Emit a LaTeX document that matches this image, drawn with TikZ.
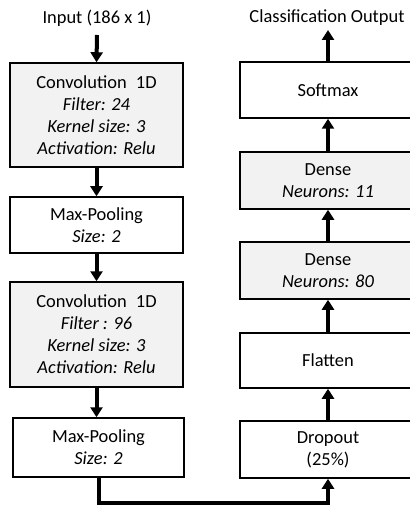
\documentclass[tikz,border=0pt]{standalone}
\usepackage{fontspec}
\setmainfont{Carlito}
\usetikzlibrary{arrows.meta,calc,positioning}
\tikzset{
  layer/.style     = {draw, line width=1.5bp, align=center, inner sep=0pt,
                      font=\fontsize{18.5}{22}\selectfont},
  convlayer/.style = {layer, fill=boxgray},
  flow/.style      = {-{Triangle[length=10bp,width=12bp]}, line width=4bp},
  caption/.style   = {font=\fontsize{18.5}{22}\selectfont},
}
\definecolor{boxgray}{HTML}{F2F2F2}

\begin{document}
\begin{tikzpicture}[x=1bp, y=-1bp, line join=miter]
  \useasboundingbox (0,0) rectangle (409,508);

  % ---- encoder side ------------------------------------------------------
  \node[caption] (input) at (97,18) {Input (186 x 1)};
  \node[convlayer, minimum width=173bp, minimum height=104bp] (conva) at (96.5,115)
    {Convolution\enspace 1D\\ \textit{Filter: 24}\\ \textit{Kernel size: 3}\\ \textit{Activation: Relu}};
  \node[layer, minimum width=173bp, minimum height=56bp] (poola) at (96.5,225)
    {Max-Pooling\\ \textit{Size: 2}};
  \node[convlayer, minimum width=173bp, minimum height=105bp] (convb) at (96.5,334.5)
    {Convolution\enspace 1D\\ \textit{Filter : 96}\\ \textit{Kernel size: 3}\\ \textit{Activation: Relu}};
  \node[layer, minimum width=171bp, minimum height=59bp] (poolb) at (98.5,447.5)
    {Max-Pooling\\ \textit{Size: 2}};

  % ---- classifier side ---------------------------------------------------
  \node[caption] (output) at (327,18) {Classification Output};
  \node[layer, minimum width=176bp, minimum height=56bp] (softmax) at (328,90) {Softmax};
  \node[convlayer, minimum width=176bp, minimum height=57bp] (densea) at (328,180.5)
    {Dense\\ \textit{Neurons: 11}};
  \node[convlayer, minimum width=176bp, minimum height=57bp] (denseb) at (328,270.5)
    {Dense\\ \textit{Neurons: 80}};
  \node[layer, minimum width=176bp, minimum height=55bp] (flatten) at (328,360.5) {Flatten};
  \node[layer, minimum width=176bp, minimum height=57bp] (dropout) at (328,449.5)
    {Dropout\\ (25\%)};

  % ---- arrows ------------------------------------------------------------
  \coordinate (inend) at (97,35);
  \coordinate (outend) at (328,30);
  \coordinate (turn) at (328,503);
  \draw[flow] (inend) -- (conva.north);
  \draw[flow] (conva.south) -- (poola.north);
  \draw[flow] (poola.south) -- (convb.north);
  \draw[flow] (convb.south) -- (convb.south |- poolb.north);
  \draw[flow] (poolb.south) |- (turn) -- (dropout.south);
  \draw[flow] (dropout.north) -- (flatten.south);
  \draw[flow] (flatten.north) -- (denseb.south);
  \draw[flow] (denseb.north) -- (densea.south);
  \draw[flow] (densea.north) -- (softmax.south);
  \draw[flow] (softmax.north) -- (outend);
\end{tikzpicture}
\end{document}
